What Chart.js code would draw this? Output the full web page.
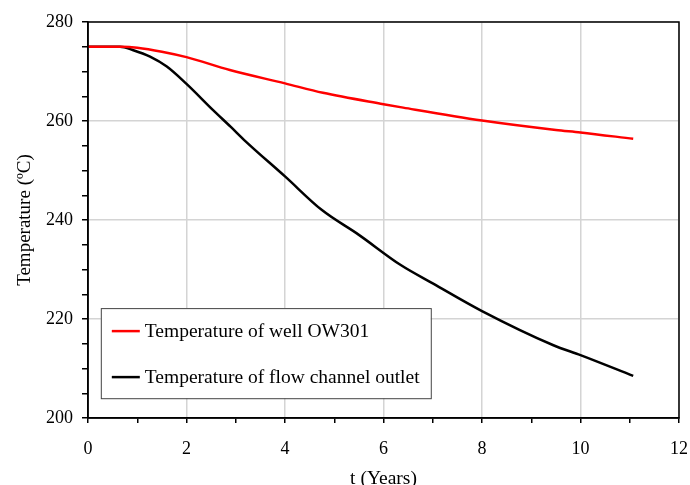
<!DOCTYPE html>
<html>
<head>
<meta charset="utf-8">
<script src="https://cdn.jsdelivr.net/npm/chart.js@4.4.0/dist/chart.umd.min.js"></script>
<style>
  body { margin: 0; background: #fff; }
  #wrap { width: 690px; height: 485px; }
</style>
</head>
<body>
<div id="wrap"><canvas id="myChart" width="690" height="485"></canvas></div>
<script>
// data
var wellYears = [0, 0.7, 1, 1.5, 2, 2.88, 4, 4.77, 6, 6.4, 8, 9.5, 10, 11.07];
var wellTemp  = [275, 275, 274.8, 274, 272.9, 270.3, 267.6, 265.7, 263.4, 262.7, 260.1, 258.2, 257.7, 256.4];

var outletYears = [0, 0.65, 0.92, 1.26, 1.6, 2, 2.54, 2.9, 3.2, 4, 4.75, 5.5, 6.35, 7, 8, 9.45, 10, 11.07];
var outletTemp  = [275, 275, 274.3, 273, 271, 267.5, 262.2, 258.8, 255.9, 248.8, 242, 237, 230.9, 227.2, 221.6, 214.7, 212.7, 208.5];

var seriesLabels = ['Temperature of well OW301', 'Temperature of flow channel outlet'];
var seriesColors = ['#ff0000', '#000000'];

var fontFam = "'Liberation Serif', 'DejaVu Serif', serif";

function toPoints(xs, ys) {
    var pts = [];
    for (var i = 0; i < xs.length; i++) pts.push({x: xs[i], y: ys[i]});
    return pts;
}

// frame round the plot area (top and right edges)
var framePlugin = {
    id: 'frame',
    afterDraw: function(chart) {
        var a = chart.chartArea, c = chart.ctx;
        c.save();
        c.strokeStyle = '#000';
        c.lineWidth = 1.5;
        c.strokeRect(a.left, a.top, a.right - a.left, a.bottom - a.top);
        c.restore();
    }
};

// boxed legend inside the plot, lower left
var boxLegend = {
    id: 'boxLegend',
    afterDraw: function(chart) {
        var c = chart.ctx;
        var x = chart.scales.x, y = chart.scales.y;
        var left = x.getPixelForValue(0.26), right = x.getPixelForValue(6.96);
        var top = y.getPixelForValue(222.2), bottom = y.getPixelForValue(204);
        c.save();
        c.fillStyle = '#fff';
        c.fillRect(left, top, right - left, bottom - top);
        c.strokeStyle = '#444';
        c.lineWidth = 1;
        c.strokeRect(left + 0.5, top + 0.5, right - left, bottom - top);
        c.font = '19.5px ' + fontFam;
        c.textBaseline = 'middle';
        var rows = [top + 23, top + 69];
        chart.data.datasets.forEach(function(ds, i) {
            c.strokeStyle = ds.borderColor;
            c.lineWidth = 2.5;
            c.beginPath();
            c.moveTo(left + 11, rows[i]);
            c.lineTo(left + 39, rows[i]);
            c.stroke();
            c.fillStyle = '#000';
            c.fillText(ds.label, left + 44, rows[i] + 1);
        });
        c.restore();
    }
};

var ctx = document.getElementById('myChart').getContext('2d');
var myChart = new Chart(ctx, {
    type: 'line',
    data: {
        datasets: [
            {
                label: seriesLabels[0],
                data: toPoints(wellYears, wellTemp),
                borderColor: seriesColors[0],
                borderWidth: 2.5,
                pointRadius: 0,
                cubicInterpolationMode: 'monotone',
                fill: false
            }, {
                label: seriesLabels[1],
                data: toPoints(outletYears, outletTemp),
                borderColor: seriesColors[1],
                borderWidth: 2.5,
                pointRadius: 0,
                cubicInterpolationMode: 'monotone',
                fill: false
            }]
    },
    options: {
        responsive: false,
        animation: false,
        layout: { padding: { top: 22, right: 11, left: 0, bottom: 0 } },
        plugins: {
            legend: { display: false },
            tooltip: { enabled: false }
        },
        scales: {
            x: {
                type: 'linear',
                min: 0, max: 12,
                afterFit: function(scale) {
                    scale.height = 67;
                    scale.paddingRight = 0;
                    scale.paddingLeft = 0;
                },
                border: { color: '#000', width: 1.5 },
                grid: {
                    color: function(c) { return c.tick && c.tick.value % 2 === 0 ? '#d4d4d4' : 'rgba(0,0,0,0)'; },
                    tickColor: '#000',
                    tickLength: 5,
                    lineWidth: 1.5
                },
                ticks: {
                    stepSize: 1,
                    autoSkip: false,
                    maxRotation: 0,
                    padding: 15,
                    color: '#000',
                    font: { family: fontFam, size: 18 },
                    callback: function(v) { return v % 2 === 0 ? v : ''; }
                },
                title: {
                    display: true,
                    text: 't (Years)',
                    color: '#000',
                    font: { family: fontFam, size: 19.5, lineHeight: 1 },
                    padding: { top: 0, bottom: -4 }
                }
            },
            y: {
                min: 200, max: 280,
                afterFit: function(scale) { scale.width = 88; },
                border: { color: '#000', width: 1.5 },
                grid: {
                    color: function(c) { return c.tick && c.tick.value % 20 === 0 ? '#d4d4d4' : 'rgba(0,0,0,0)'; },
                    tickColor: '#000',
                    tickLength: 6,
                    lineWidth: 1.5
                },
                ticks: {
                    stepSize: 5,
                    autoSkip: false,
                    padding: 9,
                    color: '#000',
                    font: { family: fontFam, size: 18 },
                    callback: function(v) { return v % 20 === 0 ? v : ''; }
                },
                title: {
                    display: true,
                    text: 'Temperature (ºC)',
                    color: '#000',
                    font: { family: fontFam, size: 19, lineHeight: 1 },
                    padding: { top: 16, bottom: 0 }
                }
            }
        }
    },
    plugins: [framePlugin, boxLegend]
});
</script>
</body>
</html>
